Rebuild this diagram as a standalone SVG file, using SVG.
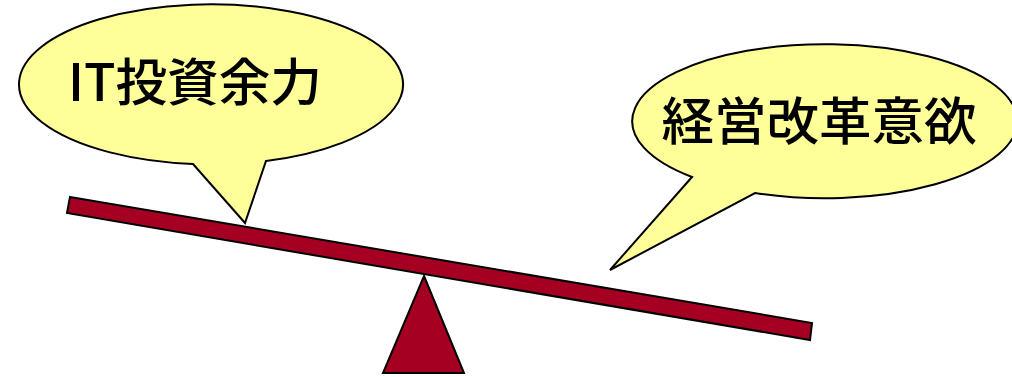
<svg xmlns="http://www.w3.org/2000/svg" width="1012" height="377" viewBox="0 0 1012 377">
<style>
.bubble{fill:#FFFF99;stroke:#000;stroke-width:2;stroke-linejoin:miter}
.red{fill:#A50021;stroke:#000;stroke-width:2}
.lbl{font-family:"Noto Sans CJK JP","Noto Sans",sans-serif;font-size:51px;font-weight:500;fill:#000}
</style>
<rect width="1012" height="377" fill="#fff"/>
<g id="beam">
<polygon class="red" points="70,197 812,323 810,340 67,213"/>
</g>
<g id="fulcrum">
<polygon class="red" points="424,276 464,373 383,373"/>
</g>
<g id="bubble-left">
<path class="bubble" d="M193,164 L245,223 L266,161 A192,80 0 1 0 193,164 Z"/>
<text class="lbl" x="195" y="101" text-anchor="middle" textLength="254" lengthAdjust="spacingAndGlyphs">IT投資余力</text>
</g>
<g id="bubble-right">
<path class="bubble" d="M692,177 L610,270 L755,193 A192.5,77 0 1 0 692,177 Z"/>
<text class="lbl" x="819" y="140" text-anchor="middle" textLength="315" lengthAdjust="spacingAndGlyphs">経営改革意欲</text>
</g>
</svg>
